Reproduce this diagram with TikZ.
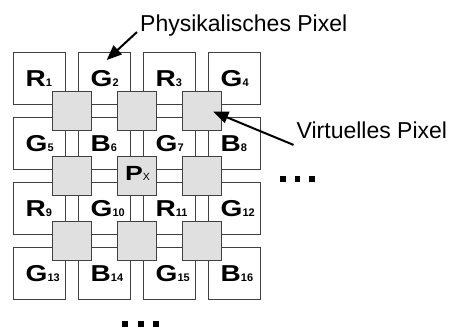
\documentclass[tikz,border=0pt]{standalone}
\usepackage{fontspec}
\setmainfont{Liberation Sans}
\usetikzlibrary{arrows.meta}
\newcommand{\pixsub}[1]{{\fontsize{11}{11}\selectfont\bfseries #1}}
\newcommand{\pixlet}[1]{\scalebox{1.22}[1]{#1}}
\begin{document}
\begin{tikzpicture}[x=1pt,y=-1pt,
  pbox/.style={draw=black!75,line width=0.9pt,fill=white,minimum size=52pt,inner sep=0pt,outer sep=0pt},
  vbox/.style={draw=black!75,line width=0.9pt,fill=black!12,minimum size=39pt,inner sep=0pt,outer sep=0pt},
  lbl/.style={inner sep=0pt,anchor=base west,font=\fontsize{23}{23}\selectfont\bfseries},
  captxt/.style={inner sep=0pt,anchor=base west,font=\fontsize{23}{23}\selectfont},
  arr/.style={line width=2pt,-{Triangle[length=15pt,width=12pt]}},
  blk/.style={fill=black,draw=none,minimum size=5.5pt,inner sep=0pt}
]
\useasboundingbox (0,0) rectangle (449,329);
% physical pixels
\foreach \n/\c/\r/\L in {1/0/0/R,2/1/0/G,3/2/0/R,4/3/0/G,
                          5/0/1/G,6/1/1/B,7/2/1/G,8/3/1/B,
                          9/0/2/R,10/1/2/G,11/2/2/R,12/3/2/G,
                          13/0/3/G,14/1/3/B,15/2/3/G,16/3/3/B}{
  \node[pbox] (b\n) at ({39+65*\c},{78+65*\r}) {};
  \node[lbl] (l\n) at ({25.5+65*\c},{86.8+65*\r}) {\pixlet{\L}\pixsub{\n}};
}
% virtual pixels
\foreach \c in {0,1,2}{
  \foreach \r in {0,1,2}{
    \node[vbox] (v\c\r) at ({71.5+65*\c},{110.5+65*\r}) {};
  }
}
\node[inner sep=0pt,anchor=base] (px) at (137.5,180.7)
  {\fontsize{20.5}{20.5}\selectfont\bfseries \scalebox{1.3}[1]{P}{\fontsize{10.5}{10.5}\selectfont\mdseries X}};
% captions
\node[captxt] (phys) at (140,32) {Physikalisches Pixel};
\node[captxt] (virt) at (296.5,138.3) {Virtuelles Pixel};
\coordinate (t1) at (106.7,60);
\coordinate (t2) at (213.3,111.7);
\draw[arr] ([xshift=-3pt]phys.base west) -- (t1);
\draw[arr] ([xshift=-3pt,yshift=-6.6pt]virt.base west) -- (t2);
% dots
\node[blk] (d1) at (283,179) {};
\node[blk] (d2) at (297.5,179) {};
\node[blk] (d3) at (312,179) {};
\node[blk] (e1) at (125.2,324.2) {};
\node[blk] (e2) at (140.8,324.2) {};
\node[blk] (e3) at (155.8,324.2) {};
\end{tikzpicture}
\end{document}
